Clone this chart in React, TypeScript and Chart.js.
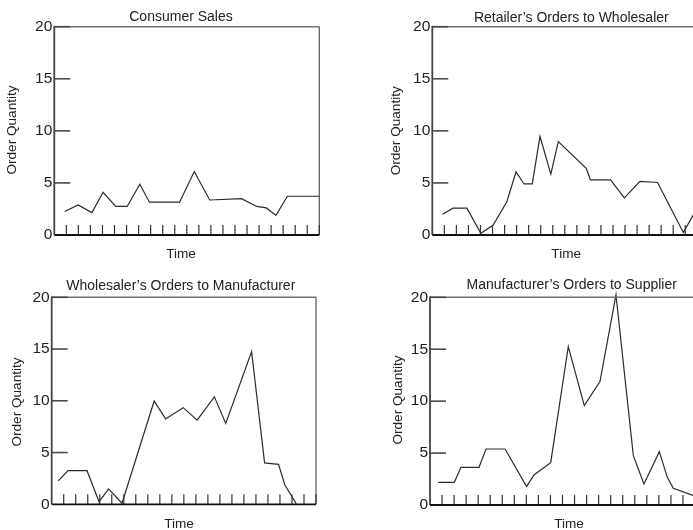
import React, { useEffect, useRef } from "react";
import { Chart, registerables } from "chart.js";

Chart.register(...registerables);

// ---- data ----
const timeTicks = [1, 2, 3, 4, 5, 6, 7, 8, 9, 10, 11, 12, 13, 14, 15, 16, 17, 18, 19, 20, 21, 22];
const quantityTicks = [5, 10, 15, 20];

const consumerTitle = "Consumer Sales";
const consumerX = [0.87, 1.98, 3.12, 4.05, 5.1, 6.05, 7.1, 7.9, 10.4, 11.62, 12.9, 15.55, 16.8, 17.6, 18.4, 19.35, 22];
const consumerY = [2.25, 2.88, 2.15, 4.1, 2.74, 2.74, 4.88, 3.15, 3.15, 6.1, 3.36, 3.49, 2.74, 2.6, 1.88, 3.72, 3.72];

const retailerTitle = "Retailer\u2019s Orders to Wholesaler";
const retailerX = [0.85, 1.72, 2.87, 4.03, 5.05, 6.18, 6.95, 7.62, 8.3, 8.94, 9.84, 10.46, 12.78, 13.12, 14.8, 15.94, 17.24, 18.7, 20.84, 22];
const retailerY = [2.0, 2.58, 2.58, 0.16, 0.96, 3.17, 6.05, 4.9, 4.9, 9.47, 5.84, 8.96, 6.4, 5.3, 5.3, 3.56, 5.15, 5.04, 0.24, 2.6];

const wholesalerTitle = "Wholesaler\u2019s Orders to Manufacturer";
const wholesalerX = [0.55, 1.36, 2.94, 3.94, 4.74, 5.85, 8.53, 9.48, 10.95, 12.11, 13.54, 14.49, 16.64, 17.72, 18.88, 19.41, 20.36];
const wholesalerY = [2.27, 3.25, 3.25, 0.25, 1.49, 0.1, 9.98, 8.25, 9.34, 8.13, 10.38, 7.81, 14.75, 4.0, 3.86, 1.86, 0.05];

const manufacturerTitle = "Manufacturer\u2019s Orders to Supplier";
const manufacturerX = [0.69, 2.02, 2.57, 4.07, 4.65, 6.23, 8.02, 8.63, 10.02, 11.48, 12.81, 14.11, 15.44, 16.88, 17.76, 19.04, 19.7, 20.2, 22];
const manufacturerY = [2.18, 2.18, 3.63, 3.63, 5.39, 5.39, 1.77, 2.89, 4.08, 15.25, 9.57, 11.88, 20.22, 4.75, 2.02, 5.14, 2.66, 1.6, 0.85];

const xLabel = "Time";
const yLabel = "Order Quantity";

// ---- layout ----
const FONT = "'Liberation Sans', Arial, Helvetica, sans-serif";
const YW = 40;

type Pt = { x: number; y: number };
type Panel = {
  title: string;
  xs: number[];
  ys: number[];
  cv: { left: number; top: number; width: number; height: number };
  area: { l: number; r: number; t: number; b: number };
  titlePos: Pt;
  timePos: Pt;
  yLabelPos: Pt;
};

const panels: Panel[] = [
  {
    title: consumerTitle, xs: consumerX, ys: consumerY,
    cv: { left: 0, top: 0, width: 346, height: 265 },
    area: { l: 54.3, r: 319.3, t: 26.7, b: 235 },
    titlePos: { x: 181, y: 20.7 }, timePos: { x: 181, y: 258 }, yLabelPos: { x: 12.8, y: 130 },
  },
  {
    title: retailerTitle, xs: retailerX, ys: retailerY,
    cv: { left: 346, top: 0, width: 360, height: 265 },
    area: { l: 432.3, r: 697.3, t: 26.7, b: 235 },
    titlePos: { x: 571.3, y: 22.3 }, timePos: { x: 566.2, y: 258.3 }, yLabelPos: { x: 396.5, y: 130.8 },
  },
  {
    title: wholesalerTitle, xs: wholesalerX, ys: wholesalerY,
    cv: { left: 0, top: 265, width: 346, height: 265 },
    area: { l: 51.7, r: 316, t: 297.3, b: 504.3 },
    titlePos: { x: 180.8, y: 290 }, timePos: { x: 179, y: 528.3 }, yLabelPos: { x: 17.5, y: 402 },
  },
  {
    title: manufacturerTitle, xs: manufacturerX, ys: manufacturerY,
    cv: { left: 346, top: 265, width: 360, height: 265 },
    area: { l: 430, r: 695, t: 297.3, b: 505 },
    titlePos: { x: 571.7, y: 289.3 }, timePos: { x: 569, y: 528.3 }, yLabelPos: { x: 398.3, y: 400 },
  },
];

function makeDeco(p: Panel) {
  return {
    id: "deco",
    afterDraw(chart: any) {
      const ctx: CanvasRenderingContext2D = chart.ctx;
      const { left, right, top, bottom } = chart.chartArea;
      const sx = chart.scales.x;
      const sy = chart.scales.y;
      const line = (x1: number, y1: number, x2: number, y2: number, c: string, w: number) => {
        ctx.beginPath();
        ctx.strokeStyle = c;
        ctx.lineWidth = w;
        ctx.moveTo(x1, y1);
        ctx.lineTo(x2, y2);
        ctx.stroke();
      };
      ctx.save();
      ctx.lineCap = "butt";
      line(left, top, right, top, "#727272", 1.6);
      line(right, top, right, bottom, "#555", 1.2);
      for (const v of quantityTicks) {
        const y = sy.getPixelForValue(v);
        line(left, y, left + 16, y, "#4a4a4a", 1.6);
      }
      for (const t of timeTicks) {
        const x = sx.getPixelForValue(t);
        line(x, bottom, x, bottom - 10, "#333", 1.2);
      }
      line(left, top - 0.8, left, bottom, "#444", 1.8);
      line(left, bottom, right, bottom, "#111", 1.8);

      const ox = p.cv.left;
      const oy = p.cv.top;
      ctx.fillStyle = "#222";
      ctx.textBaseline = "alphabetic";
      ctx.textAlign = "center";
      ctx.font = `14px ${FONT}`;
      ctx.fillText(p.title, p.titlePos.x - ox, p.titlePos.y - oy);
      ctx.font = `13.6px ${FONT}`;
      ctx.fillText(xLabel, p.timePos.x - ox, p.timePos.y - oy);
      ctx.save();
      ctx.translate(p.yLabelPos.x - ox + 0.253 * 13.6, p.yLabelPos.y - oy);
      ctx.rotate(-Math.PI / 2);
      ctx.fillText(yLabel, 0, 0);
      ctx.restore();
      ctx.restore();
    },
  };
}

function PanelChart({ p }: { p: Panel }) {
  const ref = useRef<HTMLCanvasElement | null>(null);
  useEffect(() => {
    if (!ref.current) return;
    const chart = new Chart(ref.current, {
      type: "line",
      data: {
        datasets: [
          {
            data: p.xs.map((x, i) => ({ x, y: p.ys[i] })),
            borderColor: "#2b2b2b",
            borderWidth: 1.2,
            pointRadius: 0,
            tension: 0,
            fill: false,
            clip: false as any,
          },
        ],
      },
      options: {
        animation: false,
        responsive: false,
        devicePixelRatio: 1,
        layout: {
          padding: {
            left: p.area.l - p.cv.left - YW,
            top: p.area.t - p.cv.top,
            right: p.cv.left + p.cv.width - p.area.r,
            bottom: p.cv.top + p.cv.height - p.area.b,
          },
        },
        plugins: {
          legend: { display: false },
          tooltip: { enabled: false },
          title: { display: false },
        },
        scales: {
          x: { type: "linear", min: 0, max: 22, display: false },
          y: {
            type: "linear",
            min: 0,
            max: 20,
            ticks: { stepSize: 5, color: "#222", padding: 2, font: { family: FONT, size: 15.5 } },
            grid: { display: false, drawTicks: false },
            border: { display: false },
            afterFit: (s: any) => {
              s.width = YW;
            },
          },
        },
      } as any,
      plugins: [makeDeco(p)],
    });
    return () => chart.destroy();
  }, [p]);
  return (
    <canvas
      ref={ref}
      width={p.cv.width}
      height={p.cv.height}
      style={{ position: "absolute", left: p.cv.left, top: p.cv.top, width: p.cv.width, height: p.cv.height }}
    />
  );
}

export default function App() {
  return (
    <div
      style={{
        position: "fixed",
        left: 0,
        top: 0,
        width: 693,
        height: 530,
        overflow: "hidden",
        background: "#fff",
      }}
    >
      {panels.map((p, i) => (
        <PanelChart key={i} p={p} />
      ))}
    </div>
  );
}
